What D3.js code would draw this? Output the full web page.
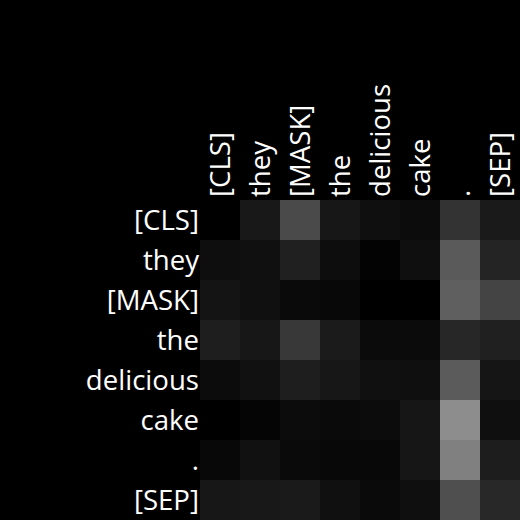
<!DOCTYPE html>
<html><head><meta charset="utf-8">
<script src="https://cdn.jsdelivr.net/npm/d3@7"></script>
<style>body{margin:0;background:#000}svg{display:block}</style>
</head><body><svg id="c" width="520" height="520"></svg>
<script>
const tokens = ["[CLS]","they","[MASK]","the","delicious","cake",".","[SEP]"];
// attention weights (rows = query token, cols = key token), read from grey level
const row0 = [0.000,0.094,0.290,0.090,0.059,0.047,0.200,0.102];
const row1 = [0.055,0.063,0.125,0.051,0.012,0.059,0.353,0.141];
const row2 = [0.078,0.063,0.039,0.031,0.000,0.000,0.373,0.267];
const row3 = [0.118,0.090,0.220,0.106,0.043,0.043,0.153,0.125];
const row4 = [0.047,0.067,0.118,0.090,0.063,0.059,0.357,0.082];
const row5 = [0.000,0.020,0.047,0.039,0.047,0.086,0.553,0.059];
const row6 = [0.031,0.067,0.039,0.031,0.031,0.086,0.502,0.114];
const row7 = [0.090,0.094,0.102,0.063,0.039,0.059,0.310,0.157];
const matrix = [row0,row1,row2,row3,row4,row5,row6,row7];

const svg = d3.select("#c");
const gridLeft = 200, gridTop = 200, gridSize = 320;
const x = d3.scaleBand().domain(tokens).range([gridLeft, gridLeft+gridSize]);
const y = d3.scaleBand().domain(tokens).range([gridTop, gridTop+gridSize]);
const color = d3.scaleLinear().domain([0,1]).range(["#000","#fff"]);

svg.append("rect").attr("width",520).attr("height",520).attr("fill","#000");

const cells = [];
matrix.forEach((r,i)=>r.forEach((v,j)=>cells.push({row:tokens[i],col:tokens[j],v})));
svg.append("g").selectAll("rect").data(cells).join("rect")
  .attr("x",d=>x(d.col)).attr("y",d=>y(d.row))
  .attr("width",x.bandwidth()).attr("height",y.bandwidth())
  .attr("fill",d=>color(d.v));

const font = "'Open Sans', sans-serif";
const fs = 27.6;
svg.append("g").selectAll("text").data(tokens).join("text")
  .attr("x",gridLeft-1).attr("y",d=>y(d)+y.bandwidth()/2)
  .attr("dy","0.35em").attr("text-anchor","end")
  .attr("fill","#fff").attr("font-family",font).attr("font-size",fs)
  .text(d=>d);

svg.append("g").selectAll("text").data(tokens).join("text")
  .attr("transform",d=>`translate(${x(d)+x.bandwidth()/2},${gridTop-3}) rotate(-90)`)
  .attr("dy","0.35em").attr("text-anchor","start")
  .attr("fill","#fff").attr("font-family",font).attr("font-size",fs)
  .text(d=>d);
</script></body></html>
